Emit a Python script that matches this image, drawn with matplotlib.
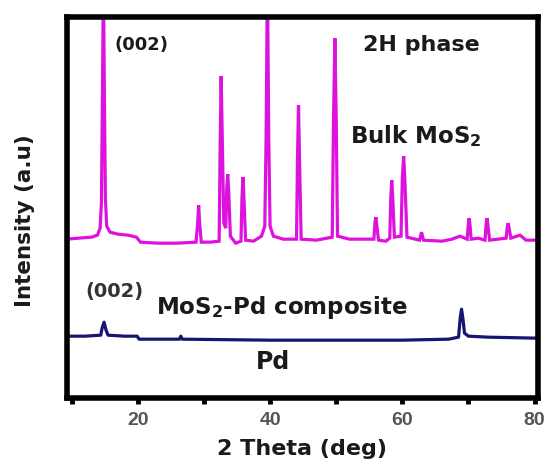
import matplotlib
matplotlib.use("Agg")
import matplotlib.pyplot as plt
from matplotlib.ticker import MultipleLocator

# XRD traces (2theta in deg, intensity in a.u.)
bulk_2theta = [9.3, 11, 13, 13.9, 14.3, 14.5, 14.65, 14.8, 14.95, 15.1, 15.3, 15.8, 17, 18.5,
               19.8, 20.4, 23, 26, 28.8, 29.05, 29.2, 29.35, 29.6, 31, 32.3, 32.45, 32.6, 32.8,
               33.0, 33.3, 33.45, 33.6, 33.75, 34.0, 34.8, 35.6, 35.75, 35.9, 36.05, 36.3, 37.5,
               38.7, 39.2, 39.4, 39.6, 39.8, 40.0, 40.5, 42, 44.0, 44.15, 44.3, 44.45, 44.7, 47,
               49.4, 49.6, 49.8, 50.0, 50.2, 52, 55.7, 55.85, 56.0, 56.15, 56.4, 57.5, 58.1,
               58.25, 58.4, 58.55, 58.8, 59.8, 60.0, 60.2, 60.4, 60.7, 62.6, 62.9, 63.2, 66,
               67.5, 68.7, 69.8, 69.95, 70.1, 70.25, 70.4, 71.5, 72.5, 72.65, 72.8, 72.95, 73.2,
               75.7, 75.85, 76.0, 76.15, 76.4, 77.8, 78.7, 80.5]
bulk_intensity = [159, 160, 161, 163, 170, 195, 300, 420, 300, 200, 172, 166, 164, 163,
                  161, 156, 155, 155, 156, 175, 193, 175, 156, 156, 157, 250, 322, 250,
                  175, 170, 210, 224, 205, 162, 155, 157, 200, 221, 200, 158, 157,
                  162, 172, 260, 420, 260, 172, 162, 159, 159, 240, 293, 240, 159, 158,
                  161, 280, 360, 280, 162, 159, 159, 175, 181, 172, 158, 157, 160,
                  200, 218, 200, 161, 162, 220, 242, 215, 161, 158, 166, 158, 157,
                  159, 162, 159, 172, 180, 172, 159, 160, 158, 172, 180, 172, 158,
                  160, 170, 175, 170, 160, 163, 158, 158]

comp_2theta = [9.3, 12, 14.4, 14.6, 14.9, 15.2, 15.5, 18, 19.9, 20.2, 26.3, 26.5, 26.7, 40,
               60, 67, 68.5, 68.75, 68.95, 69.15, 69.4, 70, 73, 80.5]
comp_intensity = [62, 62, 63, 70, 76, 68, 63, 62, 62, 59, 59, 62, 59, 58,
                  58, 59, 61, 80, 89, 80, 65, 62, 61, 60]

MAGENTA = "#dd12dd"
NAVY = "#16166e"

fig = plt.figure(figsize=(5.45, 4.63), dpi=100)
ax = fig.add_axes([0.123, 0.140, 0.864, 0.823])

ax.plot(bulk_2theta, bulk_intensity, color=MAGENTA, lw=2.3, solid_joinstyle="miter")
ax.plot(comp_2theta, comp_intensity, color=NAVY, lw=2.3)

ax.set_xlim(9.3, 80.5)
ax.set_ylim(0, 381)
ax.set_yticks([])
ax.xaxis.set_major_locator(MultipleLocator(20))
ax.xaxis.set_minor_locator(MultipleLocator(10))
ax.tick_params(axis="x", which="both", direction="out", length=4, width=3.5, pad=6,
               labelsize=14, labelcolor="#555555")
for lab in ax.get_xticklabels():
    lab.set_fontfamily("Liberation Sans")
    lab.set_fontweight("bold")
for s in ax.spines.values():
    s.set_linewidth(4)

bold = dict(fontweight="bold", color="#1a1a1a")
ax.set_xlabel("2 Theta (deg)", fontsize=16, **bold)
ax.xaxis.set_label_coords(0.499, -0.134)
ax.xaxis.label.set_va("center")
ax.set_ylabel("Intensity (a.u)", fontsize=15.5, **bold)
ax.yaxis.set_label_coords(-0.089, 0.465)
ax.yaxis.label.set_va("center")

ax.text(16.5, 353, "(002)", fontsize=13, va="center", ha="left", **bold)
ax.text(54.0, 353, "2H phase", fontsize=16, va="center", ha="left", **bold)
ax.text(52.1, 262, "Bulk MoS$_\\mathbf{2}$", fontsize=16.5, va="center", ha="left", **bold)
ax.text(12.0, 107, "(002)", fontsize=14, va="center", ha="left", fontweight="bold", color="#333333")
ax.text(22.7, 91, "MoS$_\\mathbf{2}$-Pd composite", fontsize=16.5, va="center", ha="left", **bold)
ax.text(40.4, 36, "Pd", fontsize=17, va="center", ha="center", **bold)

plt.rcParams["mathtext.default"] = "bf"
fig.savefig("out.png", dpi=100)
